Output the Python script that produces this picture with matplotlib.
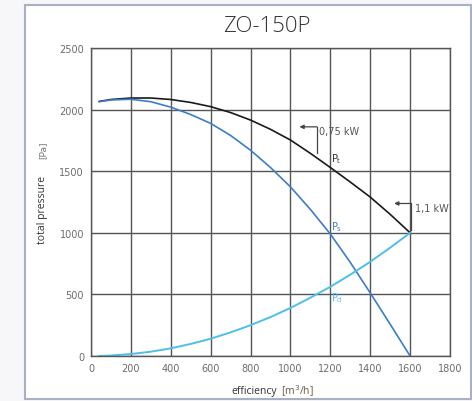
import matplotlib
matplotlib.use("Agg")
import matplotlib.pyplot as plt
from matplotlib.patches import Rectangle

# ---- data ----
flow = [40, 100, 200, 300, 400, 500, 600, 700, 800, 900, 1000, 1100, 1200, 1300, 1400, 1500, 1600]
p_total = [2066, 2082, 2094, 2094, 2082, 2058, 2024, 1976, 1915, 1840, 1753, 1645, 1530, 1412, 1290, 1150, 1000]
p_static = [2064, 2078, 2084, 2064, 2020, 1960, 1888, 1790, 1670, 1530, 1373, 1190, 990, 760, 512, 258, 0]
p_dynamic = [0, 4, 16, 35, 62, 98, 140, 192, 250, 316, 390, 473, 562, 660, 765, 879, 1000]
x_ticks = [0, 200, 400, 600, 800, 1000, 1200, 1400, 1600, 1800]
y_ticks = [0, 500, 1000, 1500, 2000, 2500]
title = "ZO-150P"

W, H = 472, 402
fig = plt.figure(figsize=(W / 100, H / 100), dpi=100)
fig.patch.set_facecolor("#f7f7f9")

# outer frame
fig.patches.append(Rectangle((25 / W, 1 - 400 / H), 446 / W, 394 / H, transform=fig.transFigure,
                             facecolor="white", edgecolor="#a9b0c4", linewidth=1.5, zorder=-10))

ax = fig.add_axes([91 / W, 1 - 357 / H, 359 / W, 308 / H])
ax.set_zorder(5)
ax.set_xlim(0, 1800)
ax.set_ylim(0, 2500)
ax.set_xticks(x_ticks)
ax.set_yticks(y_ticks)
ax.grid(True, color="#555555", linewidth=1.0)
for s in ax.spines.values():
    s.set_color("#555555")
    s.set_linewidth(1.0)
ax.tick_params(length=0, labelsize=7, labelcolor="#6b6b6b", pad=5)
ax.set_axisbelow(True)

ax.plot(flow, p_total, color="#1a1a1a", lw=1.2, solid_capstyle="round", solid_joinstyle="round")
ax.plot(flow, p_static, color="#3d7cc9", lw=1.2, solid_capstyle="round", solid_joinstyle="round")
ax.plot(flow, p_dynamic, color="#4dbfea", lw=1.4, solid_capstyle="round", solid_joinstyle="round")

# power annotations
ann_c = "#444444"
ax.plot([1132, 1132], [1860, 1645], color=ann_c, lw=0.9)
ax.annotate("", xy=(1045, 1860), xytext=(1132, 1860),
            arrowprops=dict(arrowstyle="-|>", color=ann_c, lw=0.9, mutation_scale=6, shrinkA=0, shrinkB=0))
ax.text(1145, 1830, "0,75 kW", fontsize=7, color="#555555", va="center", ha="left")
ax.plot([1603, 1603], [1238, 1020], color=ann_c, lw=0.9)
ax.annotate("", xy=(1520, 1238), xytext=(1603, 1238),
            arrowprops=dict(arrowstyle="-|>", color=ann_c, lw=0.9, mutation_scale=6, shrinkA=0, shrinkB=0))
ax.text(1625, 1205, "1,1 kW", fontsize=7, color="#555555", va="center", ha="left")

ax.text(1205, 1604, r"P$_\mathregular{t}$", fontsize=7, color="#333333", va="center", ha="left")
ax.text(1205, 1058, r"P$_\mathregular{s}$", fontsize=7, color="#3d7cc9", va="center", ha="left")
ax.text(1205, 480, r"P$_\mathregular{d}$", fontsize=7, color="#4dbfea", va="center", ha="left")

# title
fig.text(267 / W, 1 - 27 / H, title, fontsize=16, color="#333333", ha="center", va="center",
         family="Open Sans", fontweight="light")

# y label
fig.text(43 / W, 1 - 210 / H, "total pressure", rotation=90, fontsize=7.5, color="#333333",
         ha="center", va="center", family="Open Sans",
         bbox=dict(facecolor="white", edgecolor="none", pad=4))
fig.text(43 / W, 1 - 150 / H, "[Pa]", rotation=90, fontsize=6.5, color="#777777",
         ha="center", va="center")

# x label
fig.text(277 / W, 1 - 392 / H, "efficiency", fontsize=7.5, color="#333333",
         ha="right", va="center", family="Open Sans")
fig.text(281 / W, 1 - 391 / H, r"[m$^3$/h]", fontsize=7.5, color="#6b5a4a",
         ha="left", va="center", family="Open Sans")

fig.savefig("out.png", dpi=100, facecolor=fig.get_facecolor())
